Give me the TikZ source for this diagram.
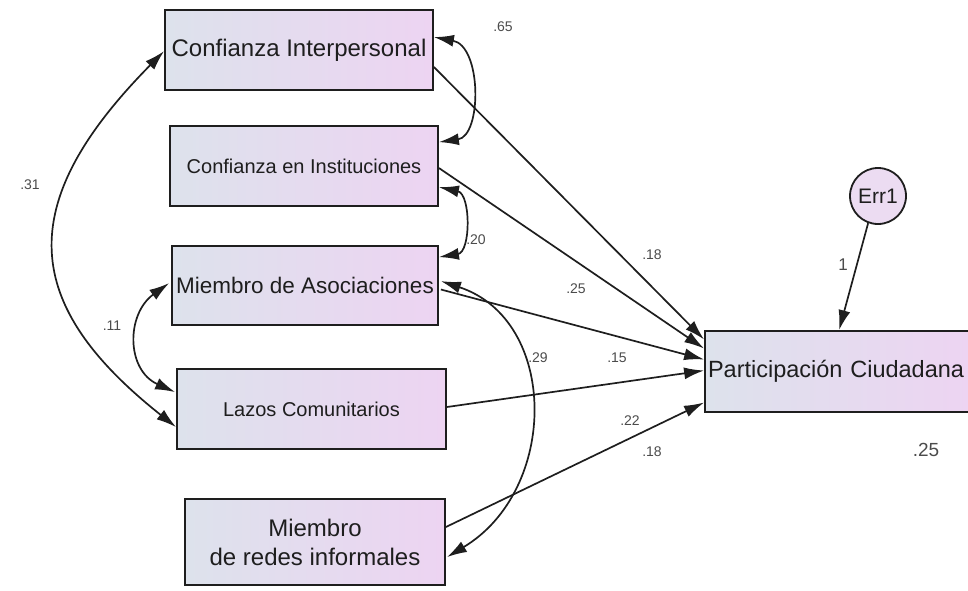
\documentclass[tikz,border=0pt]{standalone}
\usepackage{fontspec}
\setmainfont{Liberation Sans}
\usetikzlibrary{arrows.meta,calc}
\definecolor{boxL}{HTML}{DDE2EC}
\definecolor{boxR}{HTML}{EDD4F2}
\definecolor{errF}{HTML}{ECDCF2}
\definecolor{ink}{HTML}{1E1E1E}
\tikzset{
  var/.style={draw=ink, line width=1.8pt, left color=boxL, right color=boxR, text=ink, inner sep=0pt},
  errc/.style={draw=ink, line width=1.8pt, circle, fill=errF, text=ink, minimum size=56pt, inner sep=0pt, font=\fontsize{21}{21}\selectfont},
  path/.style={draw=ink, line width=1.7pt, -{Latex[length=20pt,width=12pt]}},
  cov/.style={draw=ink, line width=1.7pt, {Latex[length=20pt,width=12pt]}-{Latex[length=20pt,width=12pt]}},
  lab/.style={text=ink!80, font=\fontsize{14}{14}\selectfont, inner sep=0pt}
}
\begin{document}
\begin{tikzpicture}[x=1pt,y=-1pt]
\useasboundingbox (0,0) rectangle (968,590);
% boxes
\node[var, minimum width=268pt, minimum height=80pt, font=\fontsize{24}{24}\selectfont] (CI) at (299,50) {Confianza Interpersonal};
\node[var, minimum width=268pt, minimum height=80pt, font=\fontsize{20}{20}\selectfont] (CN) at (304,166) {Confianza en Instituciones};
\node[var, minimum width=266pt, minimum height=79pt, font=\fontsize{22.5}{22.5}\selectfont] (MA) at (305,285.5) {Miembro de Asociaciones};
\node[var, minimum width=269pt, minimum height=80pt, font=\fontsize{20}{20}\selectfont] (LC) at (311.5,409) {Lazos Comunitarios};
\node[var, minimum width=260pt, minimum height=86pt, align=center, font=\fontsize{24}{29}\selectfont] (MR) at (315,542) {Miembro\\de redes informales};
\node[var, text width=260pt, inner xsep=3pt, align=left, minimum height=81pt, font=\fontsize{23.5}{23.5}\selectfont] (PC) at (838,371.5) {Participación Ciudadana};
\node[errc] (E) at (878,196) {Err1};
% regression paths
\draw[path] ($(CI.east)+(0,17)$) -- ($(PC.west)+(0,-32)$);
\draw[path] ($(CN.east)+(0,2)$) -- ($(PC.west)+(0,-23)$);
\draw[path] ($(MA.east)+(2,4)$) -- ($(PC.west)+(0,-12)$);
\draw[path] ($(LC.east)+(0,-2)$) -- ($(PC.west)+(0,-1)$);
\draw[path] ($(MR.east)+(0,-15)$) -- ($(PC.west)+(0,31)$);
\draw[path] (E.-110) -- ($(PC.north west)+(135,0)$);
% covariances
\draw[cov] ($(CI.north east)+(0,28)$) .. controls (482,46) and (482,136) .. ($(CN.north east)+(0,17)$);
\draw[cov] ($(CN.north east)+(0,62)$) .. controls (471,194) and (471,252) .. ($(MA.north east)+(0,12)$);
\draw[cov] ($(CI.north west)+(0,42)$) .. controls (12,205) and (22,305) .. ($(LC.north west)+(0,59)$);
\draw[cov] ($(MA.north west)+(-2,38)$) .. controls (126,314) and (126,370) .. ($(LC.north west)+(-1,24)$);
\draw[cov] ($(MA.north east)+(2,36)$) .. controls (559,320) and (559,490) .. ($(MR.north east)+(1,59)$);
% labels
\node[lab] (l1) at (503,27) {.65};
\node[lab] (l2) at (30,185) {.31};
\node[lab] (l3) at (476,240) {.20};
\node[lab] (l4) at (112,326) {.11};
\node[lab] (l5) at (538,358) {.29};
\node[lab] (l6) at (617,358) {.15};
\node[lab] (l7) at (652,255) {.18};
\node[lab] (l8) at (576,289) {.25};
\node[lab] (l9) at (630,421) {.22};
\node[lab] (l10) at (652,452) {.18};
\node[lab, font=\fontsize{17}{17}\selectfont] (l11) at (843,265) {1};
\node[lab, font=\fontsize{19}{19}\selectfont] (l12) at (926,450) {.25};
\end{tikzpicture}
\end{document}
